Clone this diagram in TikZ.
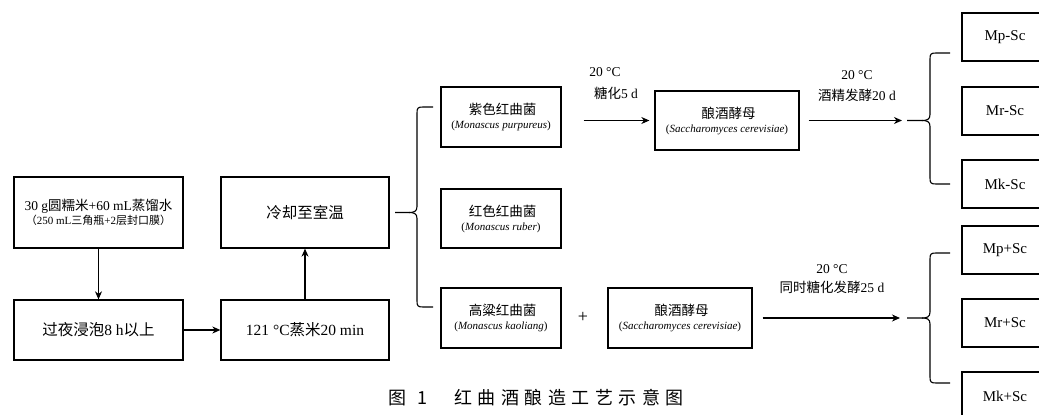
\documentclass[tikz,border=0pt]{standalone}
\usepackage{fontspec}
\setmainfont{Liberation Serif}
\newfontfamily\cjk{Noto Sans CJK SC}
\newfontfamily\capfont{Noto Sans CJK SC}
\usetikzlibrary{arrows.meta,calc}
\newcommand\fsz[2]{\fontsize{#1}{#2}\selectfont}
\newcommand\drawbrace[6]{%
 \draw[brace] (#6,#4) -- ({#3+6},#4) .. controls ({#3+1},#4) and (#3,{#4+1}) .. (#3,{#4+6}) -- (#3,{#2-6}) .. controls (#3,{#2-1}) and ({#3-3},#2) .. ({#3-8},#2) -- (#1,#2);
 \draw[brace] ({#3-8},#2) .. controls ({#3-3},#2) and (#3,{#2+1}) .. (#3,{#2+6}) -- (#3,{#5-6}) .. controls (#3,{#5-1}) and ({#3+1},#5) .. ({#3+6},#5) -- (#6,#5);
}
\begin{document}
\begin{tikzpicture}[x=1pt,y=-1pt,
  box/.style={draw, line width=1.3pt, inner sep=0pt, align=center},
  arr/.style={-{Stealth[length=8pt,width=7pt,inset=2.5pt]}, line width=1.1pt},
  brace/.style={line width=1.1pt},
  lbl/.style={inner sep=0pt, align=center}]
\useasboundingbox (0,0) rectangle (1039,415);
\clip (0,0) rectangle (1039,415);
% left process
\node[box, minimum width=169pt, minimum height=71pt] (b1) at (98.5,212.5)
  {\fsz{13.5}{20}30 g{\cjk 圆糯米}+60 mL{\cjk 蒸馏水}\\[1pt]{\fsz{11}{14}{\cjk （}250 mL{\cjk 三角瓶}+2{\cjk 层封口膜）}}};
\node[box, minimum width=169pt, minimum height=60pt, font=\fsz{15.5}{18}] (b2) at (98.5,330) {{\cjk 过夜浸泡}8 h{\cjk 以上}};
\node[box, minimum width=168pt, minimum height=60pt, font=\fsz{15.5}{18}] (b3) at (305,330) {121 °C{\cjk 蒸米}20 min};
\node[box, minimum width=168pt, minimum height=71pt, font=\fsz{15.5}{18}] (b4) at (305,212.5) {\cjk 冷却至室温};
\draw[arr] (b1.south) -- (b2.north);
\draw[arr] (b2.east) -- (b3.west);
\draw[arr] (b3.north) -- (b4.south);
% species
\node[box, minimum width=120pt, minimum height=60pt] (mp) at (501,117)
  {{\cjk\fsz{13.5}{16} 紫色红曲菌}\\[2pt]{\fsz{11}{14}({\itshape Monascus purpureus})}};
\node[box, minimum width=120pt, minimum height=59pt] (mr) at (501,218.5)
  {{\cjk\fsz{13.5}{16} 红色红曲菌}\\[2pt]{\fsz{11}{14}({\itshape Monascus ruber})}};
\node[box, minimum width=120pt, minimum height=60pt] (mk) at (501,318)
  {{\cjk\fsz{13.5}{16} 高粱红曲菌}\\[2pt]{\fsz{11}{14}({\itshape Monascus kaoliang})}};
\node[box, minimum width=144pt, minimum height=59pt] (y1) at (727,120.5)
  {{\cjk\fsz{13.5}{16} 酿酒酵母}\\[2pt]{\fsz{11}{14}({\itshape Saccharomyces cerevisiae})}};
\node[box, minimum width=144pt, minimum height=60pt] (y2) at (680,318)
  {{\cjk\fsz{13.5}{16} 酿酒酵母}\\[2pt]{\fsz{11}{14}({\itshape Saccharomyces cerevisiae})}};
\node[lbl, font=\fsz{18}{20}] (plus) at (583,317) {+};
% left brace
\drawbrace{395}{212.5}{417}{107}{307}{433}
% arrows with labels
\draw[arr, shorten <=22pt, shorten >=5pt] (y1.west -| mp.east) -- (y1.west);
\node[lbl, font=\fsz{13.5}{15}] (t1a) at (605,72) {20 °C};
\node[lbl, font=\fsz{13.5}{15}] (t1b) at (616,93) {{\cjk 糖化}5 d};
\coordinate (rb1) at (907,120.5);
\draw[arr, shorten <=9pt, shorten >=5pt] (y1.east) -- (rb1);
\node[lbl, font=\fsz{13.5}{15}] (t2a) at (857,75) {20 °C};
\node[lbl, font=\fsz{13.5}{15}] (t2b) at (857,95) {{\cjk 酒精发酵}20 d};
\coordinate (rb2) at (907,318);
\draw[arr, shorten <=10pt, shorten >=7pt] (y2.east) -- (rb2);
\node[lbl, font=\fsz{13.5}{15}] (t3a) at (832,269) {20 °C};
\node[lbl, font=\fsz{13.5}{15}] (t3b) at (832,287) {{\cjk 同时糖化发酵}25 d};
% right braces
\drawbrace{907}{120.5}{930}{53}{184}{950}
\drawbrace{907}{318}{930}{253}{383}{950}
% result boxes
\foreach \n/\yy/\t in {r1/37/Mp-Sc, r2/111/Mr-Sc, r3/184/Mk-Sc, r4/250/Mp+Sc, r5/323/Mr+Sc, r6/396/Mk+Sc}{
  \node[box, minimum width=86pt, minimum height=48pt, font=\fsz{15}{18}] (\n) at (1005,\yy) {\t};
}
% caption
\node[lbl, font=\fsz{18}{20}\capfont] (cap) at (536,398)
  {图\kern11pt 1\kern27pt 红\kern5.5pt 曲\kern5.5pt 酒\kern5.5pt 酿\kern5.5pt 造\kern5.5pt 工\kern5.5pt 艺\kern5.5pt 示\kern5.5pt 意\kern5.5pt 图};
\end{tikzpicture}
\end{document}
